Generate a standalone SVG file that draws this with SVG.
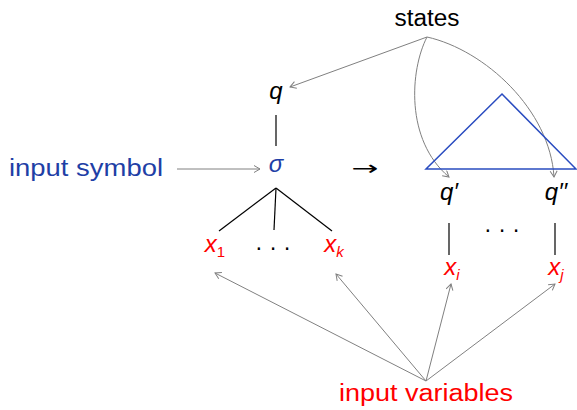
<svg xmlns="http://www.w3.org/2000/svg" width="577" height="410" viewBox="0 0 577 410">
<defs>
<marker id="ah" markerWidth="10" markerHeight="10" refX="7" refY="4" orient="auto" markerUnits="userSpaceOnUse">
<path d="M1,0.5 L7,4 L1,7.5" fill="none" stroke="#808080" stroke-width="1"/>
</marker>
<style>
text{font-family:"Liberation Sans","DejaVu Sans",sans-serif;}
.lbl{font-size:23px;text-anchor:middle;}
.m{font-style:italic;font-size:24px;text-anchor:middle;}
.sub{font-size:15px;font-style:italic;}
.up{font-style:normal;}
.red{fill:#ff0000;}
.blue{fill:#1f3fa6;}
.blk{fill:#000;}
.rarr{font-family:"DejaVu Sans",sans-serif;font-size:20px;text-anchor:middle;fill:#000;}
.arr{fill:none;stroke:#808080;stroke-width:1;marker-end:url(#ah);}
.tree{fill:none;stroke:#000;stroke-width:1.2;}
</style>
</defs>
<g id="connectors">
<path class="arr" d="M427,37 L290,87"/>
<path class="arr" d="M427,37 C410,70 405,140 449,177"/>
<path class="arr" d="M427,37 C485,50 550,110 554,177"/>
<path class="arr" d="M177,169 L260,169"/>
<path class="arr" d="M426,381 L215,273"/>
<path class="arr" d="M426,381 L336,274"/>
<path class="arr" d="M426,381 L451,284"/>
<path class="arr" d="M426,381 L555,284"/>
<line class="tree" x1="276" y1="115" x2="276" y2="146"/>
<line class="tree" x1="276" y1="188" x2="219" y2="231"/>
<line class="tree" x1="276" y1="188" x2="274" y2="230"/>
<line class="tree" x1="276" y1="188" x2="332" y2="231"/>
<line class="tree" x1="449" y1="223" x2="449" y2="255"/>
<line class="tree" x1="555" y1="223" x2="555" y2="255"/>
</g>
<g id="states"><text class="lbl blk" x="427" y="26" textLength="65" lengthAdjust="spacingAndGlyphs">states</text></g>
<g id="q"><text class="m blk" x="276" y="99">q</text></g>
<g id="sigma"><text class="m blue" x="276" y="172">σ</text></g>
<g id="input-symbol"><text class="lbl blue" x="86" y="176" textLength="154" lengthAdjust="spacingAndGlyphs">input symbol</text></g>
<g id="rewrite-arrow"><text class="rarr" x="365" y="175" textLength="27" lengthAdjust="spacingAndGlyphs">→</text></g>
<g id="triangle"><polygon points="502,94 426,169 576,169" fill="none" stroke="#2a4cc0" stroke-width="1.5"/></g>
<g id="x1"><text class="m red" x="215" y="252">x<tspan class="sub up" dy="5">1</tspan></text></g>
<g id="dots1"><text class="lbl blk" x="273" y="255">· · ·</text></g>
<g id="xk"><text class="m red" x="334" y="252">x<tspan class="sub" dy="5">k</tspan></text></g>
<g id="q1"><text class="m blk" x="449" y="200">q′</text></g>
<g id="q2"><text class="m blk" x="556" y="200">q′′</text></g>
<g id="dots2"><text class="lbl blk" x="502" y="237">· · ·</text></g>
<g id="xi"><text class="m red" x="452" y="275">x<tspan class="sub" dy="5">i</tspan></text></g>
<g id="xj"><text class="m red" x="556" y="275">x<tspan class="sub" dy="5">j</tspan></text></g>
<g id="input-variables"><text class="lbl red" x="426" y="401" textLength="174" lengthAdjust="spacingAndGlyphs">input variables</text></g>
</svg>
